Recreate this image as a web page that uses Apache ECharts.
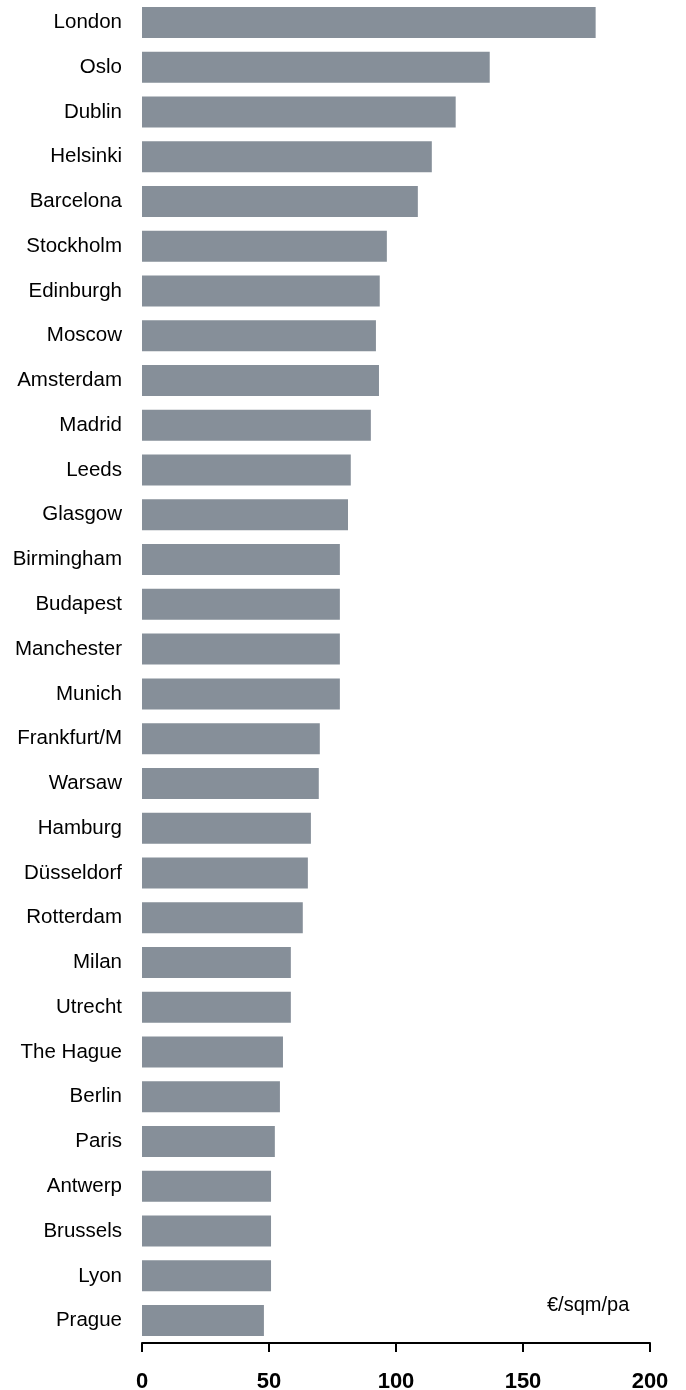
<!DOCTYPE html>
<html>
<head>
<meta charset="utf-8">
<script src="https://cdn.jsdelivr.net/npm/echarts@6/dist/echarts.min.js"></script>
<style>
  html, body { margin: 0; padding: 0; background: #fff; }
  #chart { width: 686px; height: 1390px; }
</style>
</head>
<body>
<div id="chart"></div>
<script>
// Prime office rents by city, top to bottom
const cities = [
  'London', 'Oslo', 'Dublin', 'Helsinki', 'Barcelona', 'Stockholm', 'Edinburgh',
  'Moscow', 'Amsterdam', 'Madrid', 'Leeds', 'Glasgow', 'Birmingham', 'Budapest',
  'Manchester', 'Munich', 'Frankfurt/M', 'Warsaw', 'Hamburg', 'Düsseldorf',
  'Rotterdam', 'Milan', 'Utrecht', 'The Hague', 'Berlin', 'Paris', 'Antwerp',
  'Brussels', 'Lyon', 'Prague'
]
const rents = [
  178.6, 136.9, 123.5, 114.1, 108.6, 96.4, 93.6,
  92.1, 93.3, 90.1, 82.2, 81.1, 77.9, 77.9,
  77.9, 77.9, 70.0, 69.6, 66.5, 65.3,
  63.3, 58.6, 58.6, 55.5, 54.3, 52.3, 50.8,
  50.8, 50.8, 48.0
]
const xTicks = [0, 50, 100, 150, 200]
const unitLabel = '€/sqm/pa'

const BAR_COLOR = '#868f99'
const FONT = '"Liberation Sans", Arial, sans-serif'

const chart = echarts.init(document.getElementById('chart'), null, { renderer: 'canvas' })

chart.setOption({
  animation: false,
  // keep the plot box fixed, labels sit outside it
  grid: { left: 142, right: 36, top: 0, bottom: 47, containLabel: false, outerBoundsMode: 'none' },
  xAxis: {
    type: 'value',
    min: xTicks[0],
    max: xTicks[xTicks.length - 1],
    interval: xTicks[1] - xTicks[0],
    axisLine: { show: true, lineStyle: { color: '#000', width: 2 } },
    axisTick: { show: true, inside: false, length: 9, lineStyle: { color: '#000', width: 2 } },
    splitLine: { show: false },
    axisLabel: {
      margin: 28,
      fontSize: 22,
      fontWeight: 'bold',
      color: '#000',
      fontFamily: FONT
    }
  },
  yAxis: {
    type: 'category',
    inverse: true,
    data: cities,
    axisLine: { show: false },
    axisTick: { show: false },
    axisLabel: {
      margin: 20,
      fontSize: 20.5,
      color: '#000',
      fontFamily: FONT
    }
  },
  series: [{
    type: 'bar',
    data: rents,
    barWidth: 31,
    itemStyle: { color: BAR_COLOR },
    silent: true
  }],
  graphic: [{
    type: 'text',
    left: 547,
    top: 1295,
    style: {
      text: unitLabel,
      fontSize: 20,
      fontFamily: FONT,
      fill: '#000'
    }
  }]
})
</script>
</body>
</html>
